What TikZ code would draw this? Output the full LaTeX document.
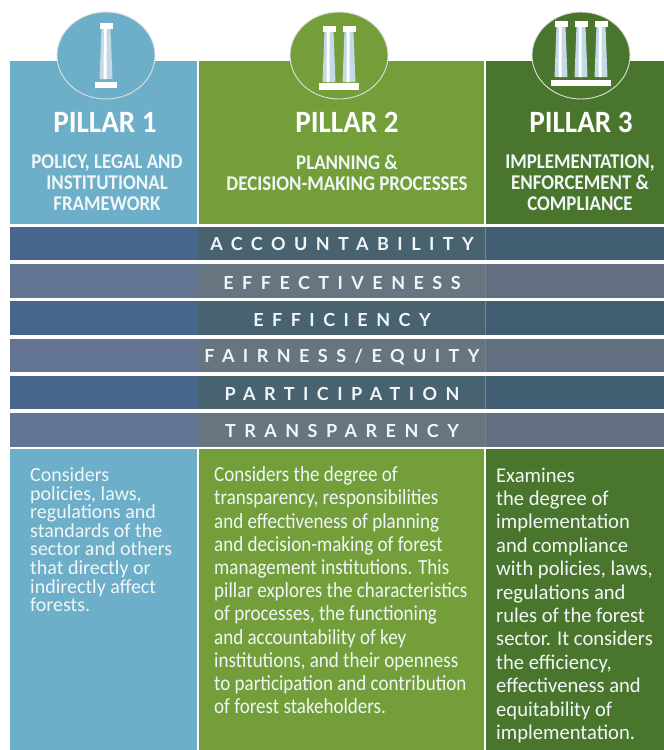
\documentclass[tikz,border=0pt]{standalone}
\usepackage{fontspec}
\usetikzlibrary{shapes.geometric}
\setmainfont{Carlito}
\newfontfamily\bandfont{Lato}[LetterSpace=47]
\newfontfamily\ttlfont{Carlito}[FakeStretch=0.94]
\newfontfamily\subfont{Carlito}[FakeStretch=0.9]
\newfontfamily\bodya{Carlito}[FakeStretch=1.0]
\newfontfamily\bodyb{Carlito}[FakeStretch=0.885]
\newfontfamily\bodyc{Carlito}[FakeStretch=0.98]
\definecolor{cblue}{HTML}{6DAEC8}
\definecolor{cgreen}{HTML}{739E3A}
\definecolor{cdark}{HTML}{49762C}
\definecolor{bandA}{HTML}{48658B}
\definecolor{bandB}{HTML}{647594}
\definecolor{bandAm}{HTML}{48626F}
\definecolor{bandBm}{HTML}{66757F}
\definecolor{bandAr}{HTML}{415E72}
\definecolor{bandBr}{HTML}{616F80}
\definecolor{shaft}{HTML}{C3D9E6}
\definecolor{seam}{HTML}{75819F}
\definecolor{pale}{HTML}{F1F7F8}
\tikzset{x=1pt,y=-1pt,
 ptitle/.style={text=white,font=\ttlfont\bfseries\fontsize{31}{31}\selectfont,anchor=center,inner sep=0pt},
 psub/.style={text=pale,font=\subfont\bfseries\fontsize{21}{20.6}\selectfont,align=center,anchor=north,inner sep=0pt},
 bandlab/.style={text=pale,font=\bandfont\bfseries\fontsize{18}{18}\selectfont,anchor=center,inner sep=0pt},
 bodytxta/.style={text=pale,font=\bodya\fontsize{20}{18.6}\selectfont,align=left,anchor=north west,inner sep=0pt},
 bodytxtb/.style={text=pale,font=\bodyb\fontsize{21.5}{23.2}\selectfont,align=left,anchor=north west,inner sep=0pt},
 bodytxtc/.style={text=pale,font=\bodyc\fontsize{21}{23.4}\selectfont,align=left,anchor=north west,inner sep=0pt},
 badge/.style={ellipse,draw=white!88!black,line width=0.9pt,minimum width=98pt,minimum height=87pt,inner sep=0pt},
}
\newcommand{\pillarcol}[2]{% x centre, top y
 \fill[shaft] (#1-4.5,#2+5) -- (#1+4.5,#2+5) -- (#1+6.5,#2+56) -- (#1-6.5,#2+56) -- cycle;
 \fill[white] (#1-2,#2+5) -- (#1+0.5,#2+5) -- (#1+0.5,#2+56) -- (#1-2.5,#2+56) -- cycle;
 \fill[white] (#1-6.5,#2) rectangle (#1+6.5,#2+6);
}
\begin{document}
\begin{tikzpicture}
\useasboundingbox (0,0) rectangle (664,750);
\fill[white] (0,0) rectangle (664,750);
% columns
\fill[cblue] (10,61) rectangle (197,224);
\fill[cgreen] (198.5,61) rectangle (484,224);
\fill[cdark] (486,61) rectangle (664,224);
\fill[cblue] (10,449) rectangle (197,750);
\fill[cgreen] (198.5,449) rectangle (484,750);
\fill[cdark] (486,449) rectangle (664,750);
% badges
\node[badge,fill=cblue] (b1) at (106,55.5) {};
\node[badge,fill=cgreen] (b2) at (339,55.5) {};
\node[badge,fill=cdark] (b3) at (581,55.5) {};
% pillar icons
\pillarcol{106}{23}
\fill[white] (95,82) rectangle (117,88);
\pillarcol{329}{26}
\pillarcol{349}{26}
\fill[white] (319,83) rectangle (359,90);
\pillarcol{561}{21}
\pillarcol{581}{21}
\pillarcol{601}{21}
\fill[white] (551,80) rectangle (611,86);
% headers
\node[ptitle] (t1) at (105,122.5) {PILLAR 1};
\node[ptitle] (t2) at (347,122.5) {PILLAR 2};
\node[ptitle] (t3) at (581,122.5) {PILLAR 3};
\node[psub] (s1) at (107,155) {POLICY, LEGAL AND\\INSTITUTIONAL\\FRAMEWORK};
\node[psub] (s2) at (347,155) {PLANNING \&\\DECISION-MAKING PROCESSES};
\node[psub] (s3) at (580,155) {IMPLEMENTATION,\\ENFORCEMENT \&\\COMPLIANCE};
% bands
\foreach \ya/\yb/\c in {227/260/A,264/298/B,301/335/A,339/372/B,376/409/A,413/447/B}{
 \fill[band\c] (10,\ya) rectangle (198,\yb);
 \fill[band\c m] (198,\ya) rectangle (484.5,\yb);
 \fill[band\c r] (485.5,\ya) rectangle (664,\yb);
 \fill[seam] (484.5,\ya) rectangle (485.5,\yb);
}
\node[bandlab] (l1) at (342,244) {ACCOUNTABILITY};
\node[bandlab] (l2) at (342,283) {EFFECTIVENESS};
\node[bandlab] (l3) at (342,320) {EFFICIENCY};
\node[bandlab] (l4) at (342,357) {FAIRNESS/EQUITY};
\node[bandlab] (l5) at (342,394) {PARTICIPATION};
\node[bandlab] (l6) at (342,431) {TRANSPARENCY};
% body
\node[bodytxta] (d1) at (30,467.5) {Considers\\policies, laws,\\regulations and\\standards of the\\sector and others\\that directly or\\indirectly affect\\forests.};
\node[bodytxtb] (d2) at (214,466.5) {Considers the degree of\\transparency, responsibilities\\and effectiveness of planning\\and decision-making of forest\\management institutions. This\\pillar explores the characteristics\\of processes, the functioning\\and accountability of key\\institutions, and their openness\\to participation and contribution\\of forest stakeholders.};
\node[bodytxtc] (d3) at (496,467.5) {Examines\\the degree of\\implementation\\and compliance\\with policies, laws,\\regulations and\\rules of the forest\\sector. It considers\\the efficiency,\\effectiveness and\\equitability of\\implementation.};
\end{tikzpicture}
\end{document}
